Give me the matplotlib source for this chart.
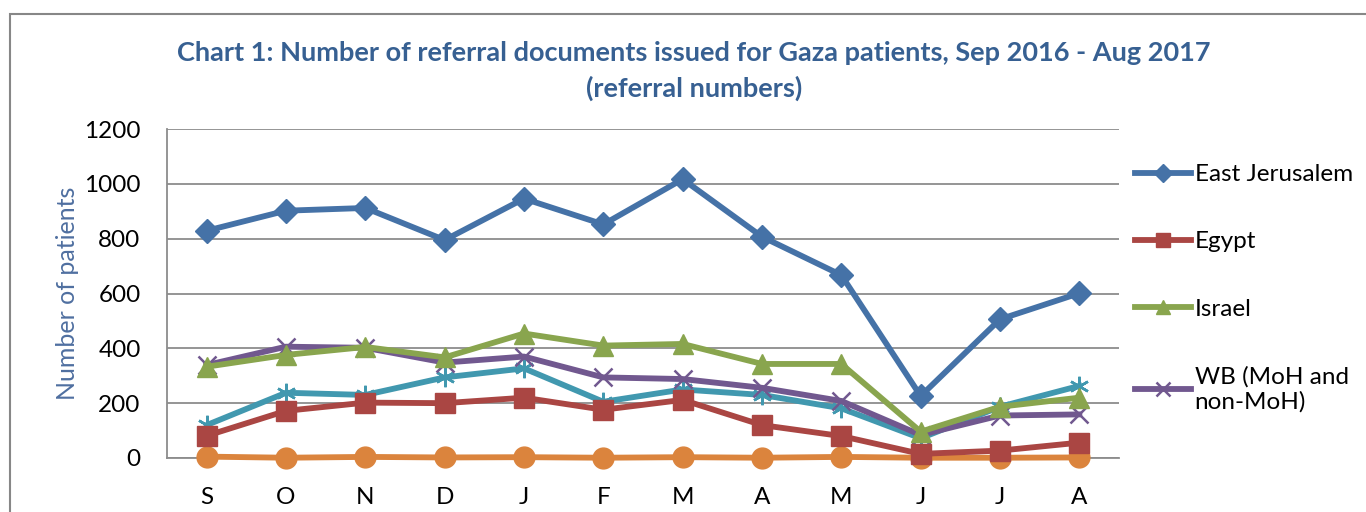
import matplotlib.pyplot as plt
from matplotlib.patches import Rectangle

plt.rcParams['font.family'] = ['Lato', 'DejaVu Sans']

months = ["S", "O", "N", "D", "J", "F", "M", "A", "M", "J", "J", "A"]

east_jerusalem = [829, 902, 912, 795, 946, 852, 1017, 807, 667, 226, 506, 601]
egypt = [81, 172, 202, 200, 220, 176, 212, 120, 80, 15, 27, 56]
israel = [333, 376, 405, 367, 454, 410, 416, 343, 343, 96, 187, 220]
wb = [339, 406, 402, 348, 370, 294, 288, 256, 208, 84, 155, 159]
teal_series = [120, 238, 230, 294, 327, 205, 250, 230, 181, 72, 187, 263]
orange_series = [5, 1, 4, 2, 3, 1, 3, 1, 4, 1, 1, 2]

fig = plt.figure(figsize=(13.66, 5.12), dpi=100)
ax = fig.add_axes([167 / 1366, 1 - 458 / 512, (1119 - 167) / 1366, (458 - 129) / 512])

# outer chart border
fig.patches.append(Rectangle((10 / 1366, -0.1), 1.2, 1 - 14 / 512 + 0.1,
                             transform=fig.transFigure, fill=False,
                             edgecolor="#878787", linewidth=1.5))

x = range(len(months))
lw = 4.2
ax.plot(x, teal_series, color="#4198AF", linewidth=lw, marker=(6, 2, 0),
        markersize=14, markeredgewidth=1.8, zorder=3, clip_on=False)
ax.plot(x, orange_series, color="#DB843D", linewidth=lw, marker="o",
        markersize=15, zorder=3, clip_on=False)
ax.plot(x, wb, color="#71588F", linewidth=lw, marker="x", markersize=13,
        markeredgewidth=1.8, label="WB (MoH and\nnon-MoH)", zorder=3, clip_on=False)
ax.plot(x, israel, color="#89A54E", linewidth=lw, marker="^", markersize=14,
        label="Israel", zorder=3, clip_on=False)
ax.plot(x, egypt, color="#AA4643", linewidth=lw, marker="s", markersize=14,
        label="Egypt", zorder=3, clip_on=False)
ax.plot(x, east_jerusalem, color="#4572A7", linewidth=lw, marker="D",
        markersize=12, label="East Jerusalem", zorder=4, clip_on=False)

ax.set_xlim(-0.5, len(months) - 0.5)
ax.set_ylim(0, 1200)
ax.set_yticks(range(0, 1201, 200))
ax.set_xticks(list(x))
ax.set_xticklabels(months)
ax.tick_params(axis="both", length=0, labelsize=17.5)
ax.tick_params(axis="y", pad=19)
ax.tick_params(axis="x", pad=21)
ax.yaxis.grid(True, color="#8C8C8C", linewidth=1.3)
ax.set_axisbelow(True)
for s in ["top", "right"]:
    ax.spines[s].set_visible(False)
for s in ["left", "bottom"]:
    ax.spines[s].set_color("#8C8C8C")
    ax.spines[s].set_linewidth(1.3)

ax.set_ylabel("Number of patients", color="#4F6FA0", fontsize=18, labelpad=4)

title_color = "#376092"
fig.text(694 / 1366, 1 - 53 / 512, "Chart 1: Number of referral documents issued for Gaza patients, Sep 2016 - Aug 2017",
         ha="center", va="center", fontsize=19.5, fontweight="bold", color=title_color)
fig.text(694 / 1366, 1 - 88 / 512, "(referral numbers)",
         ha="center", va="center", fontsize=19.5, fontweight="bold", color=title_color)

handles, labels = ax.get_legend_handles_labels()
order = [3, 2, 1, 0]
ax.legend([handles[i] for i in order], [labels[i] for i in order],
          loc="upper left", bbox_to_anchor=(0.999, 0.945), frameon=False,
          fontsize=17.5, labelspacing=1.9, handlelength=2.3, handletextpad=0.15,
          markerscale=0.75, borderaxespad=0.3)

fig.savefig("out.png", dpi=100)
